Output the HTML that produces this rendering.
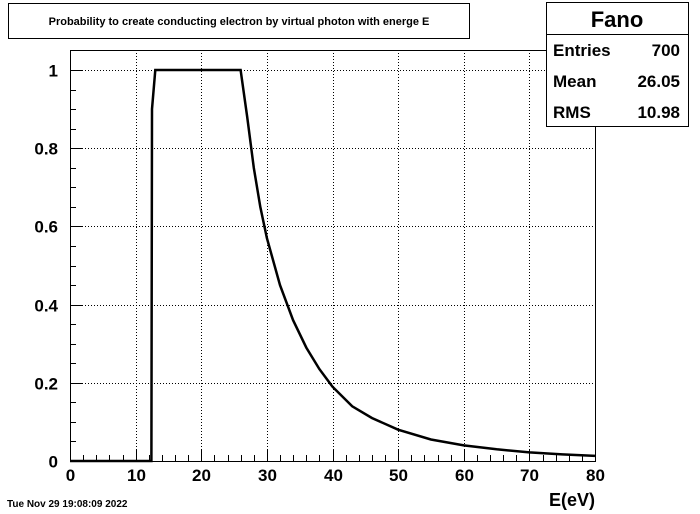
<!DOCTYPE html>
<html><head><meta charset="utf-8"><style>
body{margin:0;background:#fff;}
svg{display:block;font-family:"Liberation Sans",sans-serif;}
</style></head><body>
<svg id="c" width="700" height="514" xmlns="http://www.w3.org/2000/svg">
<rect x="0" y="0" width="700" height="514" fill="#fff"/>
<g>
<rect x="8.5" y="3.5" width="461" height="35" fill="#fff" stroke="#000"/>
<text x="239" y="25" font-size="11" font-weight="bold" text-anchor="middle">Probability to create conducting electron by virtual photon with energe E</text>
</g>
<g id="grid"></g>
<g id="axes"></g>
<path id="curve" fill="none" stroke="#000" stroke-width="2.5"/>
<rect x="70.5" y="50.5" width="525" height="411" fill="none" stroke="#000"/>
<g>
<rect x="546.5" y="2.5" width="142" height="124" fill="#fff" stroke="#000"/>
<line x1="546.5" y1="34.5" x2="688.5" y2="34.5" stroke="#000"/>
<text x="617" y="27" font-size="22" font-weight="bold" text-anchor="middle">Fano</text>
<text x="553" y="56" font-size="17" font-weight="bold">Entries</text>
<text x="680" y="56" font-size="17" font-weight="bold" text-anchor="end">700</text>
<text x="553" y="87" font-size="17" font-weight="bold">Mean</text>
<text x="680" y="87" font-size="17" font-weight="bold" text-anchor="end">26.05</text>
<text x="553" y="118" font-size="17" font-weight="bold">RMS</text>
<text x="680" y="118" font-size="17" font-weight="bold" text-anchor="end">10.98</text>
</g>
<text x="595" y="506" font-size="18" font-weight="bold" text-anchor="end">E(eV)</text>
<text x="7" y="507" font-size="10" font-weight="bold">Tue Nov 29 19:08:09 2022</text>
</svg>
<script>
const energies=[0,12.4,12.5,13,26,27,28,29,30,32,34,36,38,40,43,46,50,55,60,65,70,75,80];
const probabilities=[0,0,0.9,1,1,0.88,0.75,0.65,0.57,0.45,0.36,0.29,0.235,0.19,0.14,0.11,0.08,0.055,0.04,0.03,0.022,0.017,0.013];
const xTicks=[0,10,20,30,40,50,60,70,80];
const yTicks=[0,0.2,0.4,0.6,0.8,1];
const yTickLabels=["0","0.2","0.4","0.6","0.8","1"];
const X0=70,X1=595,Y0=461,Y1=50,XMAX=80,YMAX=1.0512;
const sx=v=>X0+(v/XMAX)*(X1-X0);
const sy=v=>Y0-(v/YMAX)*(Y0-Y1);
const NS="http://www.w3.org/2000/svg";
function mk(tag,parent,attrs){const e=document.createElementNS(NS,tag);for(const k in attrs)e.setAttribute(k,attrs[k]);parent.appendChild(e);return e;}
const grid=document.getElementById('grid'),axes=document.getElementById('axes');
xTicks.forEach((t,i)=>{
 const x=Math.round(sx(t))+0.5;
 if(t>0&&t<XMAX){const g=mk('line',grid,{x1:x,y1:Y1,x2:x,y2:Y0,stroke:'#000','stroke-dasharray':'1,2'});
 
 }
 const tk=mk('line',axes,{x1:x,y1:Y0,x2:x,y2:Y0-12,stroke:'#000'});
 
 
 const lb=mk('text',axes,{x:x,y:Y0+20,'font-size':'17','font-weight':'bold','text-anchor':'middle'});
 lb.textContent=String(t);
 
 
});
for(let v=2;v<XMAX;v+=2){if(v%10===0)continue;const x=Math.round(sx(v))+0.5;
 const m=mk('line',axes,{x1:x,y1:Y0,x2:x,y2:Y0-6,stroke:'#000'});
 
 }
yTicks.forEach((t,i)=>{
 const y=Math.round(sy(t))+0.5;
 if(t>0){const g=mk('line',grid,{x1:X0,y1:y,x2:X1,y2:y,stroke:'#000','stroke-dasharray':'1,2'});
 
 }
 const tk=mk('line',axes,{x1:X0,y1:y,x2:X0+12,y2:y,stroke:'#000'});
 
 
 const lb=mk('text',axes,{x:X0-12,y:y+6,'font-size':'17','font-weight':'bold','text-anchor':'end'});
 lb.textContent=yTickLabels[i];
 
 
});
for(let v=0.05;v<YMAX;v+=0.05){if(Math.abs(v/0.2-Math.round(v/0.2))<1e-6)continue;const y=Math.round(sy(v))+0.5;
 const m=mk('line',axes,{x1:X0,y1:y,x2:X0+6,y2:y,stroke:'#000'});
 
 }
document.getElementById('curve').setAttribute('d',energies.map((e,i)=>(i?'L':'M')+sx(e).toFixed(1)+','+sy(probabilities[i]).toFixed(1)).join(''));
</script>
</body></html>
